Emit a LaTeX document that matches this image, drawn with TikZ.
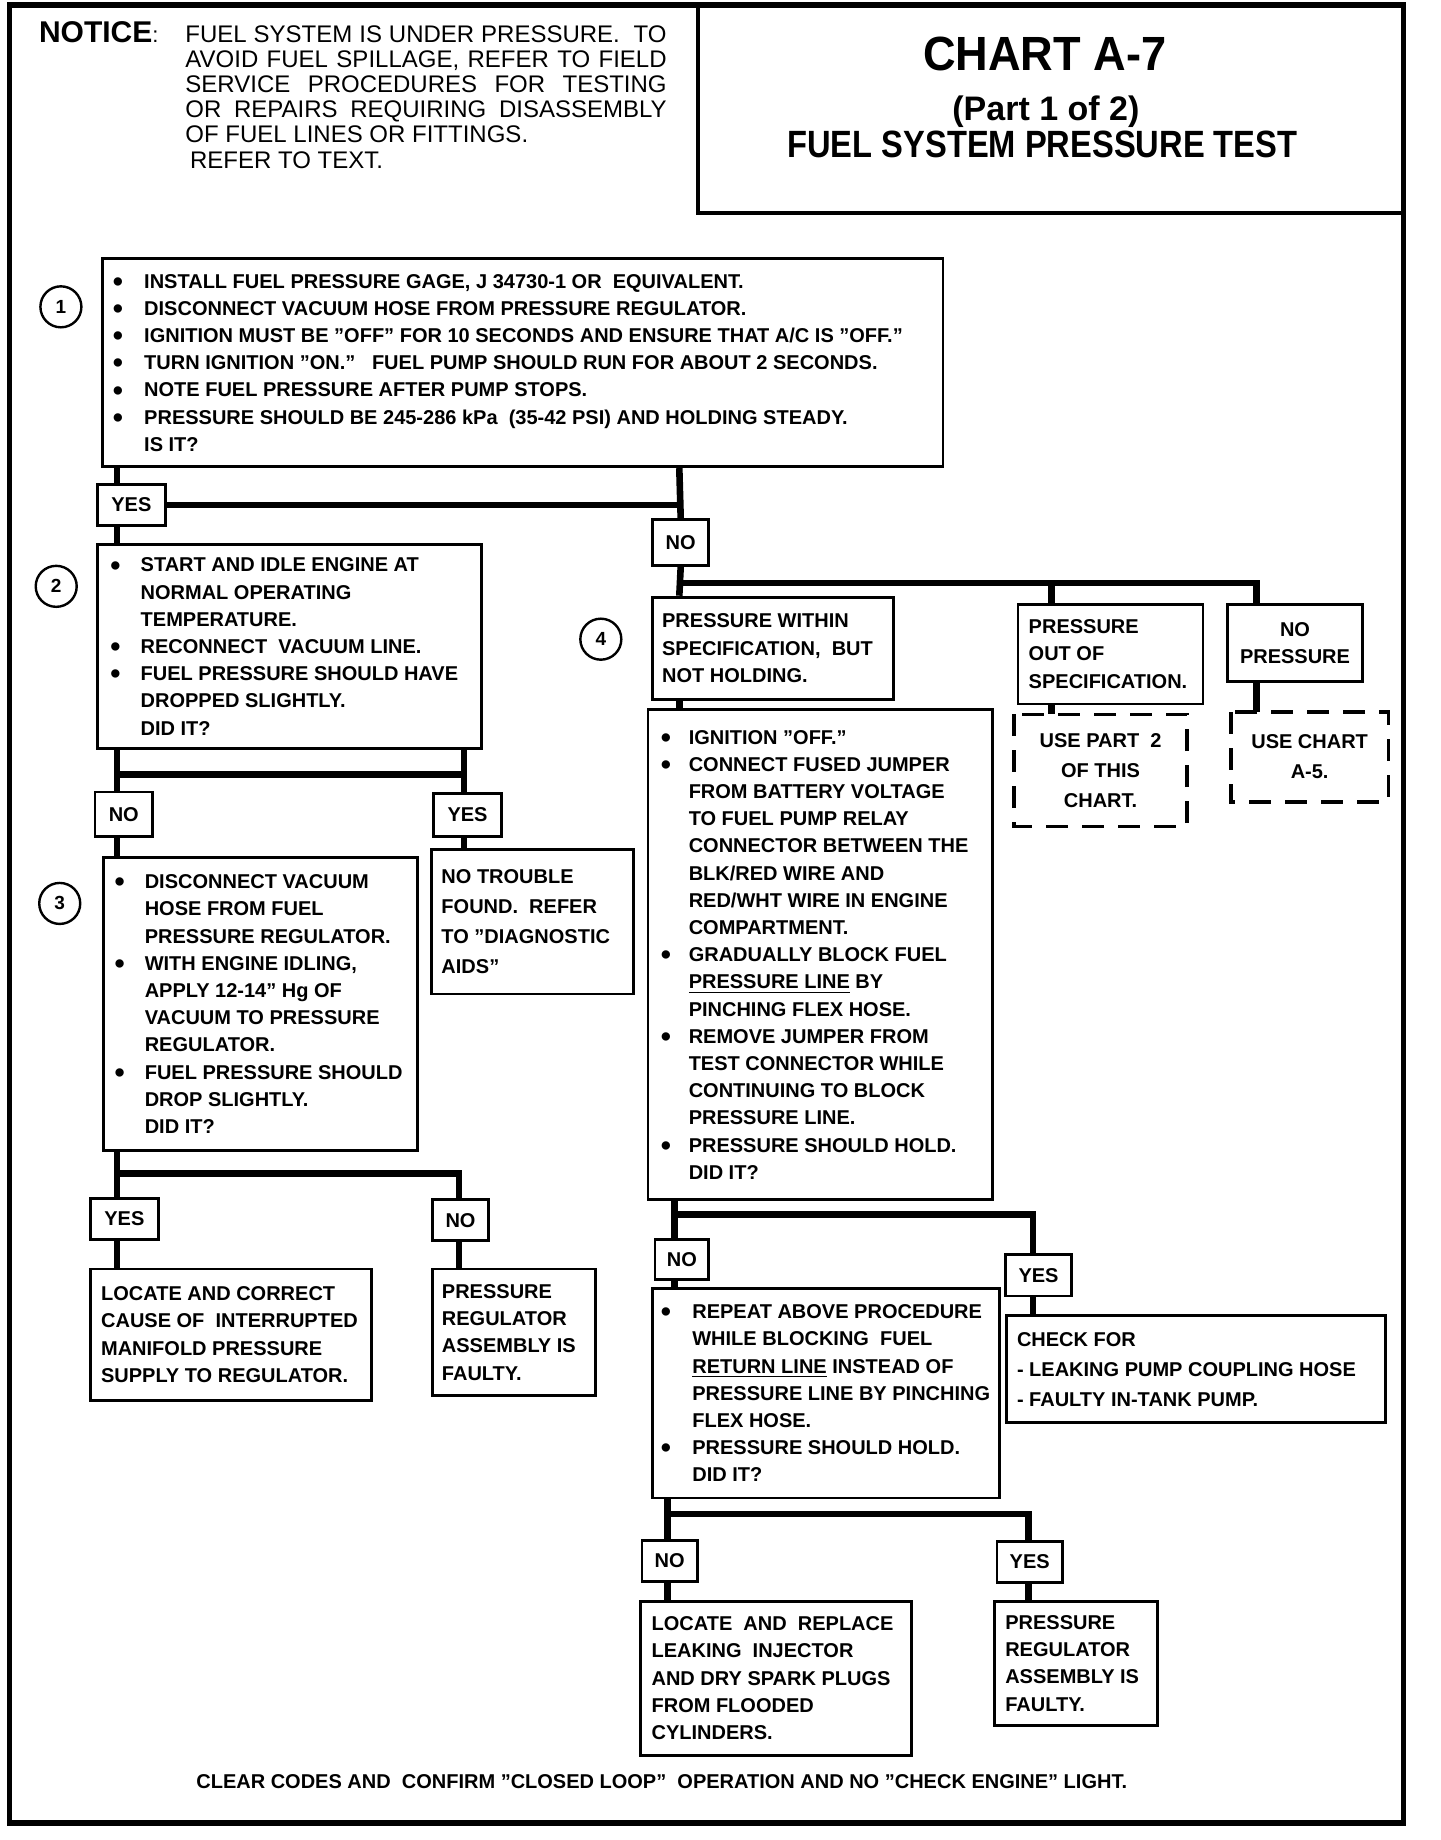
\documentclass[tikz,border=0pt]{standalone}
\usepackage{fontspec}
\setmainfont{Liberation Sans}
\usetikzlibrary{calc}
\newlength\bui
\newcommand\bu{\makebox[\bui][l]{\raisebox{-1.6pt}{\scalebox{1.45}{\textbullet}}}}
\newcommand\ct{\hspace*{\bui}}
\newcommand\bodyfont{\fontsize{10}{13.6}\selectfont\bfseries}
\newcommand\bodyfontw{\fontsize{10}{15}\selectfont\bfseries}
\newcommand\noticefont{\fontsize{12}{12.6}\selectfont}
\newcommand\numfont{\fontsize{9.5}{10}\selectfont\bfseries}
\newcommand\mkbox[7][]{%
  \pgfmathsetmacro\bw{(#5-#3)*0.5856}%
  \pgfmathsetmacro\bh{(#6-#4)*0.5872}%
  \node[box,minimum width=\bw pt,minimum height=\bh pt,#1] (#2) at (#3,#4) {#7};}
\tikzset{
  box/.style={draw, line width=1.4pt, anchor=north west, inner sep=0pt, align=center, font=\bodyfont},
  dbox/.style={line width=1.8pt, dash pattern=on 11pt off 7pt},
  txt/.style={anchor=west, align=left, inner sep=0pt, font=\bodyfont},
  conn/.style={line width=3.3pt, line join=miter},
  num/.style={circle, draw, line width=1.2pt, minimum size=20.5pt, inner sep=0pt, font=\numfont}
}
\begin{document}
\begin{tikzpicture}[x=0.5856pt, y=-0.5872pt]
\useasboundingbox (0pt,-0.435pt) rectangle (720pt,-920.435pt);
\fill[white] (0pt,-0.435pt) rectangle (720pt,-920.435pt);
% frame and title block
\draw[line width=2.6pt] (8,5) rectangle (1198,1553);
\draw[line width=2.3pt] (596,5) -- (596,182) -- (1198,182);
% notice
\node[anchor=base west, inner sep=0pt] (notice) at (33,36.6) {{\fontsize{15}{15}\selectfont\bfseries NOTICE}{\fontsize{11}{11}\selectfont:}};
\node[anchor=north west, align=left, inner sep=0pt, font=\noticefont] (noticetext) at (158,22) {%
\makebox[240.6pt][s]{FUEL SYSTEM IS UNDER PRESSURE.\ \ TO}\\
\makebox[240.6pt][s]{AVOID FUEL SPILLAGE, REFER TO FIELD}\\
\makebox[240.6pt][s]{SERVICE PROCEDURES FOR TESTING}\\
\makebox[240.6pt][s]{OR REPAIRS REQUIRING DISASSEMBLY}\\
OF FUEL LINES OR FITTINGS.\\
\hspace*{2.3pt}REFER TO TEXT.};
% title
\node[anchor=base, inner sep=0pt, font=\fontsize{24}{26}\selectfont\bfseries] (tA) at (892,61) {\scalebox{0.94}[1]{CHART A-7}};
\node[anchor=base, inner sep=0pt, font=\fontsize{17}{19}\selectfont\bfseries] (tB) at (893,103) {(Part 1 of 2)};
\node[anchor=base, inner sep=0pt, font=\fontsize{19}{21}\selectfont\bfseries] (tC) at (890,135) {\scalebox{0.86}[1]{FUEL SYSTEM PRESSURE TEST}};
% step numbers
\node[num] (c1) at (52,262) {1};
\node[num] (c2) at (48,500) {2};
\node[num] (c3) at (51,770) {3};
\node[num] (c4) at (513,545) {4};
% boxes
\mkbox{b1}{86}{220}{804}{397}{}
\mkbox{y1}{82}{412}{140}{447}{YES}
\mkbox{n1}{556}{442}{604}{481}{NO}
\mkbox{b2}{82}{463}{410}{637}{}
\mkbox{pw}{556}{508}{762}{595}{}
\mkbox{os}{868}{514}{1026}{599}{}
\mkbox{np}{1047}{514}{1162}{580}{NO\\PRESSURE}
\mkbox[draw=none,font=\bodyfontw]{d1}{866}{609}{1011}{702}{USE PART\ \ 2\\OF THIS\\CHART.}
\mkbox[draw=none,font=\bodyfontw]{d2}{1051}{607}{1183}{681}{USE CHART\\A-5.}
\draw[dbox] (d1.north west) rectangle (d1.south east);
\draw[dbox] (d2.north west) rectangle (d2.south east);
\mkbox{b4}{552}{604}{846}{1021}{}
\mkbox{n2}{80}{674}{129}{712}{NO}
\mkbox{y2}{369}{675}{427}{712}{YES}
\mkbox{b3}{87}{730}{355}{979}{}
\mkbox{nt}{367}{723}{540}{846}{}
\mkbox{y3}{76}{1020}{134}{1055}{YES}
\mkbox{n3}{368}{1021}{416}{1056}{NO}
\mkbox{r1}{76}{1080}{316}{1192}{}
\mkbox{r2}{368}{1080}{507}{1188}{}
\mkbox{n4}{558}{1055}{604}{1089}{NO}
\mkbox{y4}{857}{1068}{914}{1103}{YES}
\mkbox{b5}{556}{1097}{852}{1275}{}
\mkbox{ck}{858}{1120}{1182}{1211}{}
\mkbox{n5}{547}{1311}{594}{1346}{NO}
\mkbox{y5}{850}{1312}{906}{1347}{YES}
\mkbox{r3}{546}{1363}{777}{1494}{}
\mkbox{r4}{848}{1363}{987}{1469}{}
% texts
\setlength\bui{15.7pt}
\node[txt] (t1) at ($(b1.west)+(10,0)$) {\bu INSTALL FUEL PRESSURE GAGE, J 34730-1 OR\ \ EQUIVALENT.\\
\bu DISCONNECT VACUUM HOSE FROM PRESSURE REGULATOR.\\
\bu IGNITION MUST BE "OFF" FOR 10 SECONDS AND ENSURE THAT A/C IS "OFF."\\
\bu TURN IGNITION "ON."\ \ \ FUEL PUMP SHOULD RUN FOR ABOUT 2 SECONDS.\\
\bu NOTE FUEL PRESSURE AFTER PUMP STOPS.\\
\bu PRESSURE SHOULD BE 245-286 kPa\ \ (35-42 PSI) AND HOLDING STEADY.\\
\ct IS IT?};
\setlength\bui{15.1pt}
\node[txt] (t2) at ($(b2.west)+(12,0)$) {\bu START AND IDLE ENGINE AT\\
\ct NORMAL OPERATING\\
\ct TEMPERATURE.\\
\bu RECONNECT\ \ VACUUM LINE.\\
\bu FUEL PRESSURE SHOULD HAVE\\
\ct DROPPED SLIGHTLY.\\
\ct DID IT?};
\node[txt] (t3) at ($(b3.west)+(10.5,0)$) {\bu DISCONNECT VACUUM\\
\ct HOSE FROM FUEL\\
\ct PRESSURE REGULATOR.\\
\bu WITH ENGINE IDLING,\\
\ct APPLY 12-14" Hg OF\\
\ct VACUUM TO PRESSURE\\
\ct REGULATOR.\\
\bu FUEL PRESSURE SHOULD\\
\ct DROP SLIGHTLY.\\
\ct DID IT?};
\node[txt, font=\bodyfontw] (tnt) at ($(nt.west)+(9.6,0)$) {NO TROUBLE\\FOUND.\ \ REFER\\TO "DIAGNOSTIC\\AIDS"};
\node[txt] (tr1) at ($(r1.west)+(10,0)$) {LOCATE AND CORRECT\\CAUSE OF\ \ INTERRUPTED\\MANIFOLD PRESSURE\\SUPPLY TO REGULATOR.};
\node[txt] (tr2) at ($(r2.west)+(9,0)$) {PRESSURE\\REGULATOR\\ASSEMBLY IS\\FAULTY.};
\node[txt] (tpw) at ($(pw.west)+(9,0)$) {PRESSURE WITHIN\\SPECIFICATION,\ \ BUT\\NOT HOLDING.};
\node[txt] (tos) at ($(os.west)+(10,0)$) {PRESSURE\\OUT OF\\SPECIFICATION.};
\setlength\bui{13.9pt}
\node[txt] (t4) at ($(b4.west)+(12,0)$) {\bu IGNITION "OFF."\\
\bu CONNECT FUSED JUMPER\\
\ct FROM BATTERY VOLTAGE\\
\ct TO FUEL PUMP RELAY\\
\ct CONNECTOR BETWEEN THE\\
\ct BLK/RED WIRE AND\\
\ct RED/WHT WIRE IN ENGINE\\
\ct COMPARTMENT.\\
\bu GRADUALLY BLOCK FUEL\\
\ct \underline{PRESSURE LINE} BY\\
\ct PINCHING FLEX HOSE.\\
\bu REMOVE JUMPER FROM\\
\ct TEST CONNECTOR WHILE\\
\ct CONTINUING TO BLOCK\\
\ct PRESSURE LINE.\\
\bu PRESSURE SHOULD HOLD.\\
\ct DID IT?};
\setlength\bui{15.7pt}
\node[txt] (t5) at ($(b5.west)+(8,0)$) {\bu REPEAT ABOVE PROCEDURE\\
\ct WHILE BLOCKING\ \ FUEL\\
\ct \underline{RETURN LINE} INSTEAD OF\\
\ct PRESSURE LINE BY PINCHING\\
\ct FLEX HOSE.\\
\bu PRESSURE SHOULD HOLD.\\
\ct DID IT?};
\node[txt, font=\bodyfontw] (tck) at ($(ck.west)+(10,0)$) {CHECK FOR\\- LEAKING PUMP COUPLING HOSE\\- FAULTY IN-TANK PUMP.};
\node[txt] (tr3) at ($(r3.west)+(10,0)$) {LOCATE\ \ AND\ \ REPLACE\\LEAKING\ \ INJECTOR\\AND DRY SPARK PLUGS\\FROM FLOODED\\CYLINDERS.};
\node[txt] (tr4) at ($(r4.west)+(10,0)$) {PRESSURE\\REGULATOR\\ASSEMBLY IS\\FAULTY.};
\node[anchor=base, inner sep=0pt, font=\bodyfont] (foot) at (565,1524) {CLEAR CODES AND\ \ CONFIRM "CLOSED LOOP"\ \ OPERATION AND NO "CHECK ENGINE" LIGHT.};
% columns
\coordinate (xA) at (100,0);
\coordinate (xB) at (396,0);
\coordinate (xB2) at (392,0);
\coordinate (xC) at (580,0);
\coordinate (xD) at (898,0);
\coordinate (xE) at (1073,0);
\coordinate (xF) at (882,0);
\coordinate (xG) at (576,0);
\coordinate (xH) at (570,0);
\coordinate (xI) at (878,0);
\coordinate (j1) at (580,497);
\coordinate (j2) at (100,660);
\coordinate (j3) at (100,1000);
\coordinate (j4) at (576,1035);
\coordinate (j5) at (570,1290);
% connectors
\draw[conn] (b1.south -| xA) -- (y1.north -| xA);
\draw[conn] (y1.south -| xA) -- (b2.north -| xA);
\draw[conn] (y1.east) -- (y1.east -| xC);
\draw[conn] (b1.south -| xC) -- (n1.north);
\draw[conn] (n1.south) -- (pw.north -| xC);
\draw[conn] (j1) -- (j1 -| xE) -- (np.north -| xE);
\draw[conn] (j1 -| xD) -- (os.north -| xD);
\draw[conn] (os.south -| xD) -- (d1.north -| xD);
\draw[conn] (np.south -| xE) -- (d2.north -| xE);
\draw[conn] (pw.south -| xC) -- (b4.north -| xC);
\draw[conn] (b2.south -| xA) -- (n2.north -| xA);
\draw[conn] (b2.south -| xB) -- (y2.north -| xB);
\draw[conn] (j2) -- (j2 -| xB);
\draw[conn] (n2.south -| xA) -- (b3.north -| xA);
\draw[conn] (y2.south -| xB) -- (nt.north -| xB);
\draw[conn] (b3.south -| xA) -- (y3.north -| xA);
\draw[conn] (j3) -- (j3 -| xB2) -- (n3.north -| xB2);
\draw[conn] (y3.south -| xA) -- (r1.north -| xA);
\draw[conn] (n3.south -| xB2) -- (r2.north -| xB2);
\draw[conn] (b4.south -| xG) -- (n4.north -| xG);
\draw[conn] (j4) -- (j4 -| xF) -- (y4.north -| xF);
\draw[conn] (n4.south -| xG) -- (b5.north -| xG);
\draw[conn] (y4.south -| xF) -- (ck.north -| xF);
\draw[conn] (b5.south -| xH) -- (n5.north -| xH);
\draw[conn] (j5) -- (j5 -| xI) -- (y5.north -| xI);
\draw[conn] (n5.south -| xH) -- (r3.north -| xH);
\draw[conn] (y5.south -| xI) -- (r4.north -| xI);
\end{tikzpicture}
\end{document}
